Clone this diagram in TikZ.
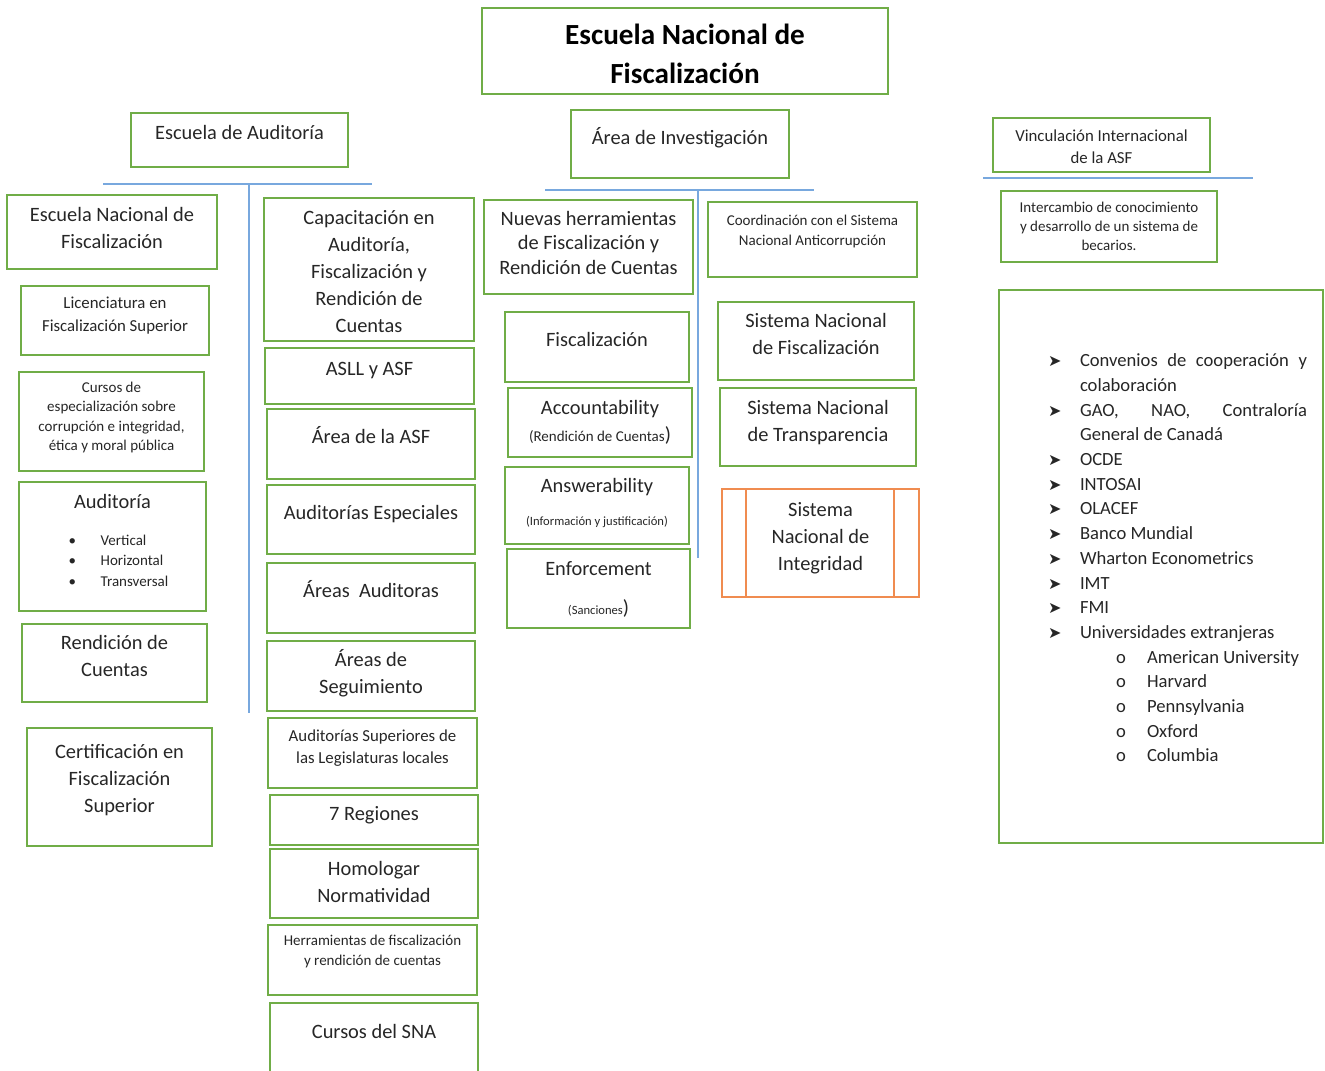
\documentclass[tikz,border=0pt]{standalone}
\usepackage{fontspec}
\setmainfont{Carlito}
\newfontfamily\simbolos{DejaVu Sans}
\definecolor{verde}{RGB}{112,173,71}
\definecolor{azul}{RGB}{120,168,222}
\definecolor{naranja}{RGB}{240,140,80}
\definecolor{texto}{RGB}{38,38,38}
\hyphenpenalty=10000
\newcommand{\flecha}[1]{\par\hangindent=40.5pt\hangafter=1\noindent\hspace*{24.5pt}\makebox[16pt][l]{\simbolos\fontsize{8}{8}\selectfont ➤}#1}
\newcommand{\subflecha}[1]{\par\noindent\hspace*{58.5pt}\makebox[15.5pt][l]{o}#1}

\begin{document}
\begin{tikzpicture}[x=0.5pt, y=-0.5pt,
  every node/.style={font=\fontsize{10.2}{13.5}\selectfont},
  caja/.style n args={3}{draw=verde, line width=1pt, text=texto, anchor=north west,
    inner sep=0pt, outer sep=0pt, align=flush center, text width=#1, text height=#2, text depth=#3},
  barra/.style={draw=azul, line width=1.2pt}]
  \useasboundingbox (0,0) rectangle (1325,1070);

  \node[caja={203pt}{18.5pt}{24.5pt}, font=\fontsize{14.6}{19.5}\selectfont\bfseries, text=black] (titulo) at (482,8) {Escuela Nacional de\\Fiscalización};
  \node[caja={108.5pt}{13pt}{14pt}] (escaud) at (131,113) {Escuela de Auditoría};
  \node[caja={109pt}{17pt}{17pt}] (areainv) at (571,110) {Área de Investigación};
  \node[caja={108.5pt}{11.5pt}{15.5pt}, font=\fontsize{8.4}{11}\selectfont] (vinc) at (993,118) {Vinculación Internacional\\de la ASF};

  \coordinate (aud-i) at (103,184);
  \coordinate (aud-d) at (372,184);
  \coordinate (aud-a) at (249,184);
  \coordinate (aud-b) at (249,713);
  \coordinate (inv-i) at (545,190);
  \coordinate (inv-d) at (814,190);
  \coordinate (inv-a) at (698,190);
  \coordinate (inv-b) at (698,558);
  \coordinate (vin-i) at (983,178);
  \coordinate (vin-d) at (1253,178);
  \draw[barra] (aud-i) -- (aud-d);
  \draw[barra] (aud-a) -- (aud-b);
  \draw[barra] (inv-i) -- (inv-d);
  \draw[barra] (inv-a) -- (inv-b);
  \draw[barra] (vin-i) -- (vin-d);

  % Escuela de Auditoria
  \node[caja={105pt}{13pt}{24pt}] (enf) at (7,195) {Escuela Nacional de\\Fiscalización};
  \node[caja={94pt}{11pt}{23.5pt}, font=\fontsize{8.4}{11.5}\selectfont] (lic) at (21,286) {Licenciatura en\\Fiscalización Superior};
  \node[caja={92.5pt}{10.25pt}{39.25pt}, font=\fontsize{7.5}{9.7}\selectfont] (cursos) at (19,372) {Cursos de\\especialización sobre\\corrupción e integridad,\\ética y moral pública};
  \node[caja={93.5pt}{13pt}{51.5pt}] (audit) at (19,482) {Auditoría\\[5pt]\hspace*{6pt}{\fontsize{7.5}{10.25}\selectfont\begin{tabular}[t]{@{}p{16pt}@{}l@{}}•&Vertical\\•&Horizontal\\•&Transversal\end{tabular}}};
  \node[caja={92.5pt}{12.5pt}{26.5pt}] (rend) at (22,624) {Rendición de\\Cuentas};
  \node[caja={92.5pt}{15pt}{44pt}] (cert) at (27,728) {Certificación en\\Fiscalización\\Superior};

  \node[caja={105pt}{13pt}{58.5pt}] (capac) at (264,198) {Capacitación en\\Auditoría,\\Fiscalización y\\Rendición de\\Cuentas};
  \node[caja={104.5pt}{13.5pt}{14.5pt}] (asll) at (265,348) {ASLL y ASF};
  \node[caja={104pt}{17pt}{18pt}] (areaasf) at (267,409) {Área de la ASF};
  \node[caja={104pt}{17pt}{17.5pt}] (audesp) at (267,485) {Auditorías Especiales};
  \node[caja={104pt}{17pt}{18pt}] (areasaud) at (267,563) {Áreas~~Auditoras};
  \node[caja={104pt}{12.5pt}{22.5pt}] (areasseg) at (267,641) {Áreas de\\Seguimiento};
  \node[caja={104.5pt}{11.5pt}{23.5pt}, font=\fontsize{8.4}{11}\selectfont] (asup) at (268,718) {Auditorías Superiores de\\las Legislaturas locales};
  \node[caja={104pt}{12.5pt}{12.5pt}] (regiones) at (270,795) {7 Regiones};
  \node[caja={104pt}{13pt}{21.5pt}] (homol) at (270,849) {Homologar\\Normatividad};
  \node[caja={104.5pt}{10.25pt}{24.75pt}, font=\fontsize{7.5}{10}\selectfont] (herram) at (268,925) {Herramientas de fiscalización\\y rendición de cuentas};
  \node[caja={104pt}{17.5pt}{18.5pt}] (cursossna) at (270,1003) {Cursos del SNA};

  % Area de Investigacion
  \node[caja={104.5pt}{12.5pt}{34.5pt}, font=\fontsize{10.2}{12.25}\selectfont] (nuevas) at (484,200) {Nuevas herramientas\\de Fiscalización y\\Rendición de Cuentas};
  \node[caja={92pt}{17pt}{18pt}] (fisc) at (505,312) {Fiscalización};
  \node[caja={92pt}{13pt}{21.5pt}] (account) at (508,388) {Accountability\\{\fontsize{7.5}{9}\selectfont(Rendición de Cuentas})};
  \node[caja={92pt}{12.5pt}{26pt}] (answer) at (505,467) {Answerability\\[3.25pt]{\fontsize{6.3}{8}\selectfont(Información y justificación)}};
  \node[caja={91.5pt}{13pt}{26.5pt}] (enforce) at (507,549) {Enforcement\\[6pt]{\fontsize{6.3}{8}\selectfont(Sanciones})};

  \node[caja={104.5pt}{11.75pt}{25.75pt}, font=\fontsize{7.5}{10}\selectfont] (coord) at (708,202) {Coordinación con el Sistema\\Nacional Anticorrupción};
  \node[caja={98pt}{12.5pt}{26.5pt}] (snf) at (718,302) {Sistema Nacional\\de Fiscalización};
  \node[caja={98pt}{13pt}{26pt}] (snt) at (720,388) {Sistema Nacional\\de Transparencia};
  \node[caja={98.5pt}{13.5pt}{40.5pt}, draw=naranja] (sni) at (722,489) {Sistema\\Nacional de\\Integridad};
  \draw[naranja, line width=1pt] ([xshift=12pt]sni.north west) -- ([xshift=12pt]sni.south west);
  \draw[naranja, line width=1pt] ([xshift=-12.5pt]sni.north east) -- ([xshift=-12.5pt]sni.south east);

  % Vinculacion Internacional
  \node[caja={108pt}{10.75pt}{24.75pt}, font=\fontsize{7.5}{9.5}\selectfont] (interc) at (1001,191) {Intercambio de conocimiento\\y desarrollo de un sistema de\\becarios.};
  \node[caja={162pt}{26pt}{250.5pt}, align=justify, font=\fontsize{9.3}{12.35}\selectfont] (convenios) at (999,290)
    {{\rightskip=8pt \tolerance=10000
      \flecha{Convenios de cooperación y colaboración}
      \flecha{GAO, NAO, Contraloría General de Canadá}
      \flecha{OCDE}
      \flecha{INTOSAI}
      \flecha{OLACEF}
      \flecha{Banco Mundial}
      \flecha{Wharton Econometrics}
      \flecha{IMT}
      \flecha{FMI}
      \flecha{Universidades extranjeras}
      \subflecha{American University}
      \subflecha{Harvard}
      \subflecha{Pennsylvania}
      \subflecha{Oxford}
      \subflecha{Columbia}\par}};
\end{tikzpicture}
\end{document}
